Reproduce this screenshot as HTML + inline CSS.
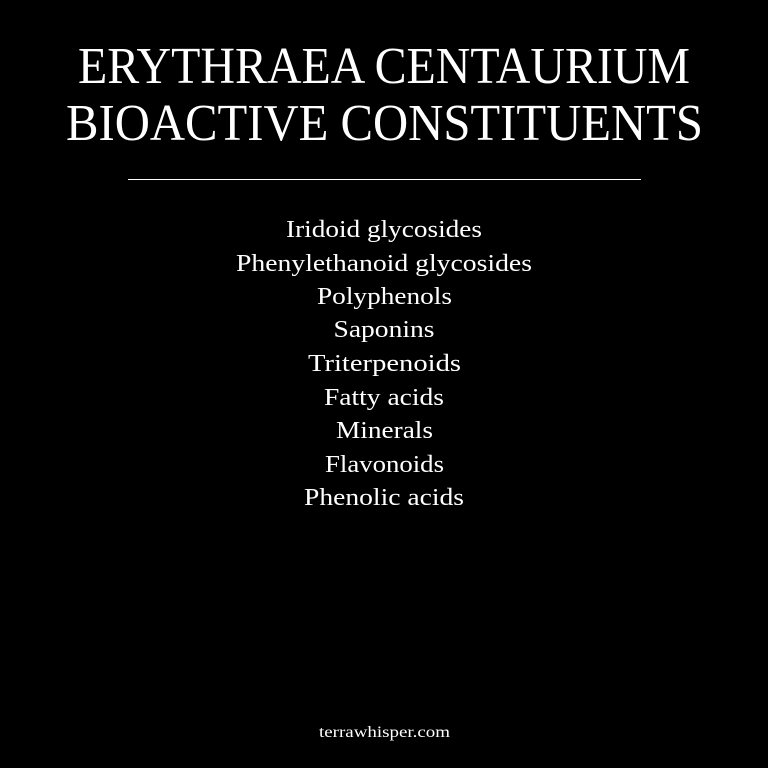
<!DOCTYPE html>
<html>
<head>
<meta charset="utf-8">
<style>
  html,body{margin:0;padding:0;background:#000;}
  svg{display:block;}
  text{font-family:"Liberation Serif",serif;fill:#fff;}
</style>
</head>
<body>
<svg width="768" height="768" viewBox="0 0 768 768">
  <rect x="0" y="0" width="768" height="768" fill="#000"/>
  <text x="384" y="83" font-size="52" text-anchor="middle" textLength="612" lengthAdjust="spacingAndGlyphs">ERYTHRAEA CENTAURIUM</text>
  <text x="384.5" y="140" font-size="52" text-anchor="middle" textLength="637" lengthAdjust="spacingAndGlyphs">BIOACTIVE CONSTITUENTS</text>
  <line x1="128" y1="179.5" x2="641" y2="179.5" stroke="#fff" stroke-width="1"/>
  <g font-size="24" text-anchor="middle">
    <text x="384" y="237" textLength="196" lengthAdjust="spacingAndGlyphs">Iridoid glycosides</text>
    <text x="384" y="271" textLength="296" lengthAdjust="spacingAndGlyphs">Phenylethanoid glycosides</text>
    <text x="384.5" y="304" textLength="135" lengthAdjust="spacingAndGlyphs">Polyphenols</text>
    <text x="384" y="337" textLength="101" lengthAdjust="spacingAndGlyphs">Saponins</text>
    <text x="384.5" y="371" textLength="153" lengthAdjust="spacingAndGlyphs">Triterpenoids</text>
    <text x="384" y="405" textLength="120" lengthAdjust="spacingAndGlyphs">Fatty acids</text>
    <text x="384.5" y="438" textLength="97" lengthAdjust="spacingAndGlyphs">Minerals</text>
    <text x="384.5" y="472" textLength="119" lengthAdjust="spacingAndGlyphs">Flavonoids</text>
    <text x="384" y="505" textLength="160" lengthAdjust="spacingAndGlyphs">Phenolic acids</text>
  </g>
  <text x="384.5" y="737" font-size="16" text-anchor="middle" textLength="131" lengthAdjust="spacingAndGlyphs">terrawhisper.com</text>
</svg>
</body>
</html>
